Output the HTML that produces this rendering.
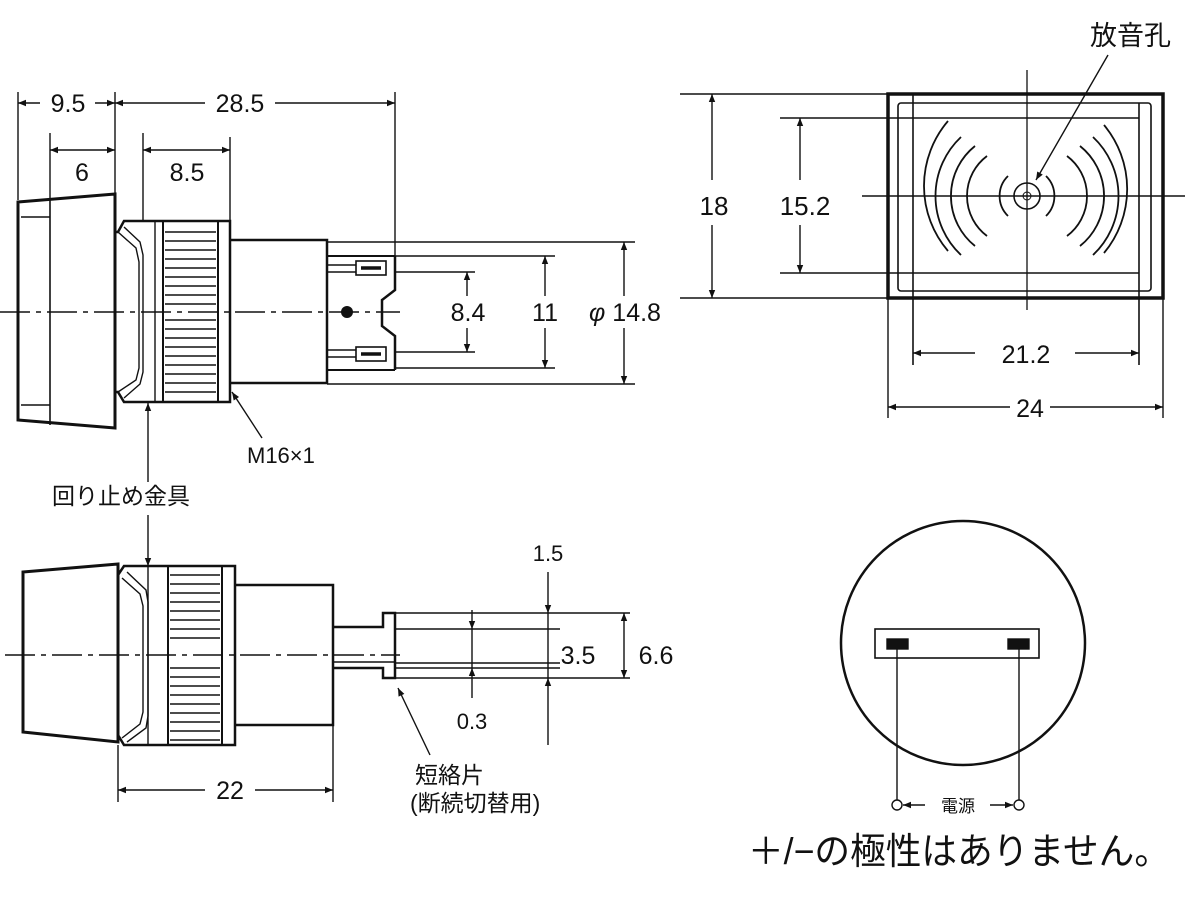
<!DOCTYPE html>
<html><head><meta charset="utf-8"><style>
html,body{margin:0;padding:0;background:#fff;}
svg{display:block;}
text{font-family:"Liberation Sans","Noto Sans CJK JP",sans-serif;fill:#111;}
</style></head><body>
<svg width="1200" height="900" viewBox="0 0 1200 900" xmlns="http://www.w3.org/2000/svg">
<defs>
<marker id="a" viewBox="0 0 10 10" refX="10" refY="5" markerWidth="16" markerHeight="8" markerUnits="userSpaceOnUse" orient="auto-start-reverse"><path d="M0,1 L10,5 L0,9 z" fill="#111"/></marker>
</defs>
<g stroke="#111" fill="none" stroke-width="1.4">
<line x1="18" y1="92" x2="18" y2="200"/>
<line x1="115" y1="92" x2="115" y2="195"/>
<line x1="395" y1="92" x2="395" y2="258"/>
<line x1="50" y1="133" x2="50" y2="200"/>
<line x1="143" y1="133" x2="143" y2="222"/>
<line x1="230" y1="137" x2="230" y2="222"/>
<line x1="18" y1="103" x2="40" y2="103" marker-start="url(#a)"/>
<line x1="95" y1="103" x2="115" y2="103" marker-end="url(#a)"/>
<line x1="115" y1="103" x2="205" y2="103" marker-start="url(#a)"/>
<line x1="275" y1="103" x2="395" y2="103" marker-end="url(#a)"/>
<line x1="50" y1="150" x2="115" y2="150" marker-start="url(#a)" marker-end="url(#a)"/>
<line x1="143" y1="150" x2="230" y2="150" marker-start="url(#a)" marker-end="url(#a)"/>
<path d="M18,202 L115,194 L115,428 L18,420 Z" stroke-width="3"/>
<line x1="50" y1="200" x2="50" y2="425" stroke-width="1.6"/>
<line x1="21" y1="217" x2="50" y2="217"/>
<line x1="21" y1="405" x2="50" y2="405"/>
<path d="M115,232 L118,232 L124,221 L230,221 L230,402 L124,402 L118,392 L115,392" stroke-width="2.5"/>
<path d="M118,232 L136,248 L139,262 L139,368 L136,380 L118,392"/>
<path d="M124,227 L140,242 L143,255 L143,372 L140,384 L124,398"/>
<line x1="155" y1="221" x2="155" y2="402"/>
<line x1="163" y1="221" x2="163" y2="402" stroke-width="2"/>
<line x1="218" y1="221" x2="218" y2="402" stroke-width="2"/>
<g stroke-width="1.6">
<line x1="165" y1="232" x2="216" y2="232"/><line x1="165" y1="241" x2="216" y2="241"/><line x1="165" y1="250" x2="216" y2="250"/><line x1="165" y1="259" x2="216" y2="259"/><line x1="165" y1="268" x2="216" y2="268"/><line x1="165" y1="277" x2="216" y2="277"/><line x1="165" y1="286" x2="216" y2="286"/><line x1="165" y1="295" x2="216" y2="295"/><line x1="165" y1="304" x2="216" y2="304"/><line x1="165" y1="320" x2="216" y2="320"/><line x1="165" y1="329" x2="216" y2="329"/><line x1="165" y1="338" x2="216" y2="338"/><line x1="165" y1="347" x2="216" y2="347"/><line x1="165" y1="356" x2="216" y2="356"/><line x1="165" y1="365" x2="216" y2="365"/><line x1="165" y1="374" x2="216" y2="374"/><line x1="165" y1="383" x2="216" y2="383"/><line x1="165" y1="392" x2="216" y2="392"/>
</g>
<path d="M230,240 L327,240 L327,383 L230,383" stroke-width="2.5"/>
<line x1="327" y1="242" x2="495" y2="242"/>
<line x1="327" y1="384" x2="495" y2="384"/>
<line x1="327" y1="256" x2="395" y2="256" stroke-width="2"/>
<line x1="327" y1="370" x2="395" y2="370" stroke-width="2"/>
<line x1="327" y1="265" x2="356" y2="265"/><line x1="327" y1="272" x2="356" y2="272"/>
<line x1="327" y1="350" x2="356" y2="350"/><line x1="327" y1="357" x2="356" y2="357"/>
<rect x="356" y="261" width="30" height="14" stroke-width="1.6"/>
<rect x="356" y="347" width="30" height="14" stroke-width="1.6"/>
<line x1="361" y1="268" x2="381" y2="268" stroke-width="3.5"/>
<line x1="361" y1="354" x2="381" y2="354" stroke-width="3.5"/>
<path d="M395,256 L395,290 L382,300 L382,326 L395,336 L395,370" stroke-width="2.5"/>
<circle cx="347" cy="312" r="6" fill="#111" stroke="none"/>
<line x1="395" y1="272" x2="475" y2="272"/>
<line x1="395" y1="352" x2="475" y2="352"/>
<line x1="395" y1="256" x2="555" y2="256"/>
<line x1="395" y1="368" x2="555" y2="368"/>
<line x1="495" y1="242" x2="635" y2="242"/>
<line x1="495" y1="384" x2="635" y2="384"/>
<line x1="0" y1="312" x2="400" y2="312" stroke-dasharray="30,6,5,6"/>
<line x1="467" y1="272" x2="467" y2="296" marker-start="url(#a)"/>
<line x1="467" y1="328" x2="467" y2="352" marker-end="url(#a)"/>
<line x1="545" y1="256" x2="545" y2="296" marker-start="url(#a)"/>
<line x1="545" y1="328" x2="545" y2="368" marker-end="url(#a)"/>
<line x1="624" y1="242" x2="624" y2="296" marker-start="url(#a)"/>
<line x1="624" y1="328" x2="624" y2="384" marker-end="url(#a)"/>
<line x1="262" y1="438" x2="232" y2="392" marker-end="url(#a)"/>
<line x1="148" y1="482" x2="148" y2="403" marker-end="url(#a)"/>
<line x1="148" y1="515" x2="148" y2="566" marker-end="url(#a)"/>

<path d="M23,572 L118,564 L118,742 L23,732 Z" stroke-width="3"/>
<path d="M118,575 L124,566 L235,566 L235,745 L124,745 L118,735" stroke-width="2.5"/>
<path d="M122,578 L140,594 L143,606 L143,712 L140,724 L122,738"/>
<path d="M127,572 L146,590 L148,602 L148,716 L146,728 L127,742"/>
<line x1="148" y1="566" x2="148" y2="745"/>
<line x1="168" y1="566" x2="168" y2="745" stroke-width="2"/>
<line x1="222" y1="566" x2="222" y2="745" stroke-width="2"/>
<g stroke-width="1.6">
<line x1="170" y1="575" x2="220" y2="575"/><line x1="170" y1="584" x2="220" y2="584"/><line x1="170" y1="593" x2="220" y2="593"/><line x1="170" y1="602" x2="220" y2="602"/><line x1="170" y1="611" x2="220" y2="611"/><line x1="170" y1="620" x2="220" y2="620"/><line x1="170" y1="629" x2="220" y2="629"/><line x1="170" y1="638" x2="220" y2="638"/><line x1="170" y1="668" x2="220" y2="668"/><line x1="170" y1="677" x2="220" y2="677"/><line x1="170" y1="686" x2="220" y2="686"/><line x1="170" y1="695" x2="220" y2="695"/><line x1="170" y1="704" x2="220" y2="704"/><line x1="170" y1="713" x2="220" y2="713"/><line x1="170" y1="722" x2="220" y2="722"/><line x1="170" y1="731" x2="220" y2="731"/><line x1="170" y1="740" x2="220" y2="740"/>
</g>
<path d="M235,585 L333,585 L333,725 L235,725" stroke-width="2.5"/>
<path d="M333,627 L383,627 L383,613 L395,613 L395,678 L383,678 L383,668 L333,668" stroke-width="2.5"/>
<line x1="333" y1="662" x2="395" y2="662"/>
<line x1="395" y1="613" x2="630" y2="613"/>
<line x1="395" y1="678" x2="630" y2="678"/>
<line x1="395" y1="629" x2="560" y2="629"/>
<line x1="395" y1="663" x2="560" y2="663"/>
<line x1="395" y1="668" x2="560" y2="668"/>
<line x1="5" y1="655" x2="400" y2="655" stroke-dasharray="30,6,5,6"/>
<line x1="548" y1="572" x2="548" y2="613" marker-end="url(#a)"/>
<line x1="548" y1="745" x2="548" y2="678" marker-end="url(#a)"/>
<line x1="548" y1="613" x2="548" y2="678"/>
<line x1="472" y1="610" x2="472" y2="629" marker-end="url(#a)"/>
<line x1="472" y1="698" x2="472" y2="668" marker-end="url(#a)"/>
<line x1="472" y1="629" x2="472" y2="668"/>
<line x1="624" y1="613" x2="624" y2="678" marker-start="url(#a)" marker-end="url(#a)"/>
<line x1="430" y1="755" x2="398" y2="688" marker-end="url(#a)"/>
<line x1="118" y1="745" x2="118" y2="802"/>
<line x1="333" y1="725" x2="333" y2="802"/>
<line x1="118" y1="790" x2="205" y2="790" marker-start="url(#a)"/>
<line x1="255" y1="790" x2="333" y2="790" marker-end="url(#a)"/>

<rect x="888" y="94" width="275" height="204" stroke-width="3.5"/>
<rect x="898" y="103" width="253" height="188" rx="3" stroke-width="1.6"/>
<line x1="913" y1="94" x2="913" y2="365" stroke-width="1.6"/>
<line x1="1139" y1="103" x2="1139" y2="365" stroke-width="1.6"/>
<line x1="780" y1="118" x2="1139" y2="118" stroke-width="1.6"/>
<line x1="780" y1="273" x2="1139" y2="273" stroke-width="1.6"/>
<line x1="680" y1="94" x2="888" y2="94"/>
<line x1="680" y1="298" x2="888" y2="298"/>
<line x1="862" y1="196" x2="1185" y2="196" stroke-width="1.6"/>
<line x1="1027" y1="70" x2="1027" y2="310" stroke-width="1.3"/>
<circle cx="1027" cy="196" r="13" stroke-width="1.6"/>
<circle cx="1027" cy="196" r="4" stroke-width="1"/>
<g stroke-width="1.8">
<path d="M1008,176 A28,28 0 0 0 1008,216"/>
<path d="M987,156 A50,50 0 0 0 987,236"/>
<path d="M975,146 A64,64 0 0 0 975,246"/>
<path d="M961,137 A81,81 0 0 0 961,255"/>
<path d="M948,121 A100,100 0 0 0 948,251"/>
<path d="M1046,176 A28,28 0 0 1 1046,216"/>
<path d="M1067,156 A50,50 0 0 1 1067,236"/>
<path d="M1080,146 A64,64 0 0 1 1080,246"/>
<path d="M1093,137 A81,81 0 0 1 1093,255"/>
<path d="M1104,125 A100,100 0 0 1 1104,253"/>
</g>
<line x1="1108" y1="55" x2="1036" y2="180" marker-end="url(#a)"/>
<line x1="712" y1="94" x2="712" y2="180" marker-start="url(#a)"/>
<line x1="712" y1="225" x2="712" y2="298" marker-end="url(#a)"/>
<line x1="800" y1="118" x2="800" y2="180" marker-start="url(#a)"/>
<line x1="800" y1="225" x2="800" y2="273" marker-end="url(#a)"/>
<line x1="888" y1="298" x2="888" y2="418"/>
<line x1="1163" y1="298" x2="1163" y2="418"/>
<line x1="913" y1="353" x2="975" y2="353" marker-start="url(#a)"/>
<line x1="1075" y1="353" x2="1139" y2="353" marker-end="url(#a)"/>
<line x1="888" y1="407" x2="1010" y2="407" marker-start="url(#a)"/>
<line x1="1050" y1="407" x2="1163" y2="407" marker-end="url(#a)"/>

<circle cx="963" cy="643" r="122" stroke-width="2.5"/>
<rect x="875" y="629" width="164" height="29" stroke-width="1.6"/>
<rect x="887" y="639" width="21" height="10" fill="#111"/>
<rect x="1008" y="639" width="21" height="10" fill="#111"/>
<line x1="897" y1="649" x2="897" y2="800"/>
<line x1="1019" y1="649" x2="1019" y2="800"/>
<circle cx="897" cy="805" r="5"/>
<circle cx="1019" cy="805" r="5"/>
<line x1="925" y1="805" x2="903" y2="805" marker-end="url(#a)"/>
<line x1="990" y1="805" x2="1013" y2="805" marker-end="url(#a)"/>
</g>

<g font-size="25">
<text x="68" y="112" text-anchor="middle">9.5</text>
<text x="240" y="112" text-anchor="middle">28.5</text>
<text x="82" y="181" text-anchor="middle">6</text>
<text x="187" y="181" text-anchor="middle">8.5</text>
<text x="468" y="321" text-anchor="middle">8.4</text>
<text x="545" y="321" text-anchor="middle">11</text>
<text x="625" y="321" text-anchor="middle"><tspan font-style="italic">φ</tspan> 14.8</text>
<text x="247" y="463" font-size="22">M16×1</text>
<text x="52" y="504" font-size="23">回り止め金具</text>
<text x="548" y="561" text-anchor="middle" font-size="22">1.5</text>
<text x="578" y="664" text-anchor="middle">3.5</text>
<text x="656" y="664" text-anchor="middle">6.6</text>
<text x="472" y="729" text-anchor="middle" font-size="22">0.3</text>
<text x="415" y="783" font-size="23">短絡片</text>
<text x="410" y="811" font-size="23">(断続切替用)</text>
<text x="230" y="799" text-anchor="middle">22</text>
<text x="1090" y="45" font-size="27">放音孔</text>
<text x="714" y="215" text-anchor="middle" font-size="26">18</text>
<text x="805" y="215" text-anchor="middle" font-size="26">15.2</text>
<text x="1026" y="363" text-anchor="middle">21.2</text>
<text x="1030" y="417" text-anchor="middle">24</text>
<text x="958" y="812" text-anchor="middle" font-size="17">電源</text>
<text x="748" y="864" font-size="37" textLength="422" lengthAdjust="spacingAndGlyphs">＋/−の極性はありません。</text>
</g>
</svg>
</body></html>
